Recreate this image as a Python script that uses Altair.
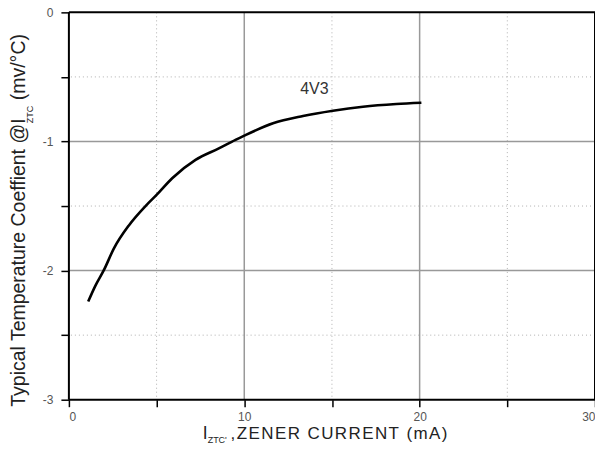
import altair as alt
import pandas as pd

# Curve (4V3)
cur_x = [1.1, 1.5, 2.0, 2.56, 3.42, 4.37, 5.0, 5.89, 7.22, 8.55, 9.5, 10.0, 11.64, 13.35, 15.06, 16.77, 18.67, 20.1]
cur_y = [-2.24, -2.12, -1.995, -1.83, -1.65, -1.50, -1.414, -1.285, -1.143, -1.054, -0.988, -0.955, -0.859, -0.803, -0.762, -0.731, -0.710, -0.700]

x_major = [10, 20]
x_minor = [5, 15, 25]
y_major = [-1, -2]
y_minor = [-0.5, -1.5, -2.5]
x_frame = [0, 30]
y_frame = [-3, 0]
x_ticks = [0, 5, 10, 15, 20, 25, 30]
y_ticks = [0, -0.5, -1, -1.5, -2, -2.5, -3]

curve_label = "4V3"
label_x = [14.0]
label_y = [-0.63]

FONT = "Liberation Sans"
HS = "\u200a"

curve_df = pd.DataFrame({"x": cur_x, "y": cur_y})

xs = alt.Scale(domain=[0, 30], nice=False, zero=False)
ys = alt.Scale(domain=[-3, 0], nice=False, zero=False)

xaxis = alt.Axis(values=x_ticks, grid=False, domain=False, title=None,
                 labelExpr="datum.value % 10 == 0 ? '' + datum.value : ''",
                 tickSize=7, tickColor="black", tickWidth=1.5,
                 labelPadding=5, labelFontSize=12, labelColor="#555555", labelFont=FONT)
yaxis = alt.Axis(values=y_ticks, grid=False, domain=False, title=None,
                 labelExpr="datum.value % 1 == 0 ? '' + datum.value : ''",
                 tickSize=8, tickColor="black", tickWidth=1.5,
                 labelPadding=8, labelFontSize=12, labelColor="#555555", labelFont=FONT)

minor_vx = alt.Chart(pd.DataFrame({"v": x_minor})).mark_rule(
    color="#b0b0b0", strokeWidth=1, strokeDash=[1, 3]).encode(x=alt.X("v:Q", scale=xs, axis=xaxis))
minor_hy = alt.Chart(pd.DataFrame({"v": y_minor})).mark_rule(
    color="#b0b0b0", strokeWidth=1, strokeDash=[1, 3]).encode(y=alt.Y("v:Q", scale=ys, axis=yaxis))
major_vx = alt.Chart(pd.DataFrame({"v": x_major})).mark_rule(
    color="#999999", strokeWidth=1.5).encode(x=alt.X("v:Q", scale=xs))
major_hy = alt.Chart(pd.DataFrame({"v": y_major})).mark_rule(
    color="#999999", strokeWidth=1.5).encode(y=alt.Y("v:Q", scale=ys))
frame_vx = alt.Chart(pd.DataFrame({"v": x_frame})).mark_rule(
    color="black", strokeWidth=2).encode(x=alt.X("v:Q", scale=xs))
frame_hy = alt.Chart(pd.DataFrame({"v": y_frame})).mark_rule(
    color="black", strokeWidth=2).encode(y=alt.Y("v:Q", scale=ys))

line = alt.Chart(curve_df).mark_line(color="black", strokeWidth=2.6, interpolate="monotone").encode(
    x=alt.X("x:Q", scale=xs), y=alt.Y("y:Q", scale=ys))

lbl = alt.Chart(pd.DataFrame({"x": label_x, "y": label_y, "t": [curve_label]})).mark_text(
    font=FONT, fontSize=16, color="#333333", align="center", baseline="alphabetic").encode(
    x=alt.X("x:Q", scale=xs), y=alt.Y("y:Q", scale=ys), text="t:N")

def txt(s, x, y, size, angle=0):
    return alt.Chart(pd.DataFrame({"t": [s]})).mark_text(
        font=FONT, fontSize=size, color="#222222", align="left", baseline="alphabetic",
        angle=angle).encode(x=alt.value(x), y=alt.value(y), text="t:N")

# y title pieces (rotated)
yt1 = txt("Typical Temperature Coeffient @I", -44, 395, 19.5, 270)
yt2 = txt("ZTC", -36, 111, 9, 270)
yt3 = txt("(mv/°C)", -44, 88, 19.5, 270)

# x title pieces
xt1 = txt("I", 134, 427, 17.5)
xt2 = txt("ZTC'", 139, 431, 9)
spaced = HS.join(list(",ZENER CURRENT (mA)"))
xt3 = txt(spaced, 162, 427, 17)

chart = alt.layer(minor_vx, minor_hy, major_vx, major_hy, line, lbl, frame_vx, frame_hy,
                  yt1, yt2, yt3, xt1, xt2, xt3).properties(
    width=527, height=388,
    autosize=alt.AutoSizeParams(type="none"),
    padding={"left": 61, "top": 4, "right": 0, "bottom": 44},
    background="white",
).configure_view(stroke=None)

chart.save("out.html", embed_options={"renderer": "svg", "actions": False})
